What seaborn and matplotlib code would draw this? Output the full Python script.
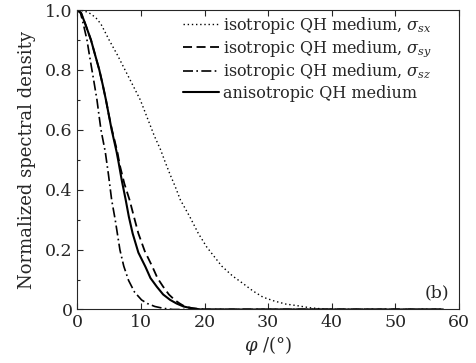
import pandas as pd
import matplotlib
matplotlib.use('Agg')
import matplotlib.pyplot as plt
import seaborn as sns

# 그래프 데이터
phi_sx = [0, 1.2, 2.15, 3.0, 3.72, 5.0, 6.3, 7.5, 8.7, 9.9, 11.0, 12.1, 13.1, 13.8, 14.6, 15.4,
          16.2, 17.7, 19.0, 20.3, 21.4, 22.7, 24.4, 26.1, 27.6, 29.2, 31.0, 32.8, 34.5, 36.5,
          38.5, 40.0, 57.5]
dens_sx = [1.0, 0.996, 0.987, 0.972, 0.953, 0.9, 0.85, 0.8, 0.75, 0.7, 0.64, 0.58, 0.533, 0.493, 0.45, 0.41,
           0.366, 0.309, 0.255, 0.21, 0.18, 0.145, 0.112, 0.086, 0.062, 0.041, 0.028, 0.018, 0.013, 0.006,
           0.002, 0.0, 0.0]

phi_sy = [0, 0.6, 1.26, 2.15, 2.8, 3.46, 4.0, 4.5, 4.95, 5.45, 6.3, 6.7, 7.4, 8.2, 8.9, 9.6,
          10.6, 11.8, 12.6, 13.5, 14.4, 15.3, 16.1, 16.9, 18.2, 20.0, 57.5]
dens_sy = [1.0, 0.99, 0.953, 0.9, 0.85, 0.8, 0.75, 0.7, 0.65, 0.6, 0.526, 0.48, 0.42, 0.367, 0.31, 0.254,
           0.195, 0.143, 0.105, 0.076, 0.05, 0.032, 0.02, 0.01, 0.004, 0.0, 0.0]

phi_sz = [0, 0.5, 0.95, 1.52, 1.9, 2.3, 2.7, 3.09, 3.4, 3.72, 4.4, 4.9, 5.4, 5.97, 6.7, 7.3,
          8.06, 9.0, 10.1, 11.0, 12.2, 13.5, 15.0, 57.5]
dens_sz = [1.0, 0.99, 0.953, 0.9, 0.85, 0.8, 0.75, 0.7, 0.65, 0.6, 0.526, 0.45, 0.366, 0.298, 0.199, 0.145,
           0.097, 0.058, 0.032, 0.02, 0.01, 0.004, 0.0, 0.0]

phi_an = [0, 0.6, 1.26, 2.15, 2.8, 3.46, 4.0, 4.5, 4.95, 5.4, 6.18, 6.5, 7.0, 7.6, 8.1, 8.7,
          9.6, 10.7, 11.5, 12.5, 13.5, 14.6, 15.6, 16.7, 18.0, 19.5, 57.5]
dens_an = [1.0, 0.99, 0.953, 0.9, 0.85, 0.8, 0.75, 0.7, 0.65, 0.6, 0.526, 0.49, 0.43, 0.367, 0.31, 0.254,
           0.19, 0.143, 0.105, 0.076, 0.05, 0.032, 0.02, 0.01, 0.004, 0.0, 0.0]

labels = [r'isotropic QH medium, $\sigma_{sx}$',
          r'isotropic QH medium, $\sigma_{sy}$',
          r'isotropic QH medium, $\sigma_{sz}$',
          'anisotropic QH medium']

sns.set_style('ticks')
plt.rcParams['font.family'] = ['DejaVu Serif']
plt.rcParams['mathtext.fontset'] = 'dejavuserif'

fig = plt.figure(figsize=(4.76, 3.63), dpi=100)
ax = fig.add_axes([0.1624, 0.1474, 0.8019, 0.825])

series = [
    (phi_sx, dens_sx, labels[0], (0, (1, 2)), 1.0),
    (phi_sy, dens_sy, labels[1], (0, (5, 2.5)), 1.3),
    (phi_sz, dens_sz, labels[2], (0, (6, 2, 1, 2)), 1.2),
    (phi_an, dens_an, labels[3], '-', 1.5),
]
for x, y, lab, ls, lw in series:
    df = pd.DataFrame({'phi': x, 'density': y})
    sns.lineplot(data=df, x='phi', y='density', ax=ax, color='black',
                 linestyle=ls, linewidth=lw, label=lab, sort=False)

ax.set_xlim(0, 60)
ax.set_ylim(0, 1.0)
ax.set_xticks([0, 10, 20, 30, 40, 50, 60])
ax.set_yticks([0, 0.2, 0.4, 0.6, 0.8, 1.0])
ax.set_yticklabels(['0', '0.2', '0.4', '0.6', '0.8', '1.0'])
ax.set_yticks([0.1, 0.3, 0.5, 0.7, 0.9], minor=True)
ax.tick_params(axis='both', which='both', direction='in', labelsize=12.5, top=True, right=False)
ax.tick_params(axis='both', which='major', length=4, width=0.8)
ax.tick_params(axis='y', which='minor', length=2.5, width=0.8)
for sp in ax.spines.values():
    sp.set_visible(True)
    sp.set_linewidth(0.8)

ax.set_xlabel(r'$\varphi$ /(°)', fontsize=13, labelpad=2)
ax.set_ylabel('Normalized spectral density', fontsize=13, labelpad=6)

ax.legend(loc='upper left', bbox_to_anchor=(0.276, 0.985), frameon=False, fontsize=11.5,
          handlelength=2.3, handletextpad=0.25, borderpad=0, borderaxespad=0,
          labelspacing=0.15)
ax.text(0.942, 0.055, '(b)', transform=ax.transAxes, ha='center', va='center', fontsize=12.5)

fig.savefig('out.png', dpi=100)
